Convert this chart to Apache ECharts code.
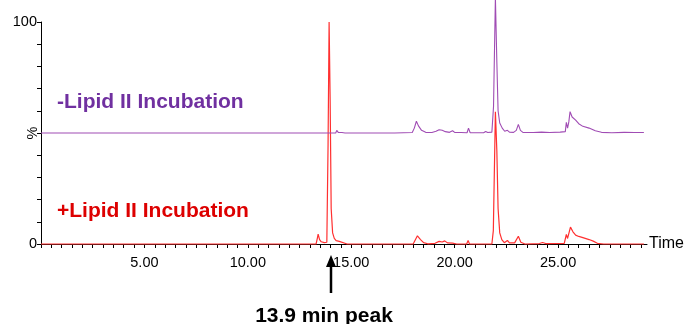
<!DOCTYPE html>
<html>
<head>
<meta charset="utf-8">
<script src="https://cdn.jsdelivr.net/npm/echarts@6/dist/echarts.min.js"></script>
<style>
  html, body { margin: 0; padding: 0; background: #fff; }
  #chart { width: 684px; height: 324px; }
</style>
</head>
<body>
<div id="chart"></div>
<script>
// Chromatogram traces: retention time (min) and relative intensity (%)
const minusLipidTime = [0, 13.8, 14.25, 14.3, 14.38, 14.55, 14.62, 14.7, 16.22, 16.3, 16.38, 16.95, 17.02, 17.1,
  17.95, 18.05, 18.15, 18.25, 18.4, 18.6, 18.9, 19.1, 19.25, 19.4, 19.55, 19.75, 19.9, 20.0, 20.3, 20.6, 20.67, 20.75,
  21.4, 21.5, 21.6, 21.8, 21.88, 21.97, 22.04, 22.1, 22.18, 22.3, 22.42, 22.55, 22.65, 22.85, 22.98, 23.08, 23.18, 23.3,
  23.8, 24.2, 24.6, 25.1, 25.35, 25.4, 25.46, 25.52, 25.58, 25.68, 25.85, 26.0, 26.2, 26.5, 26.8, 27.1, 27.6, 28.2, 28.7, 29.15];
const minusLipidIntensity = [0, 0, 0, 1.2, 0.2, 0.2, 0.6, 0, 0, 0.5, 0, 0, 0.5, 0,
  0.2, 2.2, 5.3, 3.2, 1.2, 0.3, 0.2, 0.8, 1.5, 1.2, 0.6, 0.3, 1.0, 0.3, 0.2, 0.1, 2.2, 0.1,
  0.1, 0.7, 0.2, 0.4, 12, 61, 32, 10, 4.5, 2.2, 0.8, 1.2, 0.4, 0.3, 1.2, 3.9, 1.2, 0.3,
  0.2, 0.4, 0.2, 0.4, 0.6, 4.8, 2.2, 5, 9.6, 7.2, 5.8, 4.2, 3.0, 2.2, 1.0, 0.3, 0.1, 0.3, 0.2, 0.2];

const plusLipidTime = [0, 13.3, 13.36, 13.4, 13.47, 13.55, 13.7, 13.82, 13.88, 13.93, 13.98, 14.03, 14.1, 14.18, 14.27,
  14.35, 14.42, 14.5, 14.8, 16.3, 16.35, 16.45, 18.0, 18.2, 18.35, 18.5, 18.7, 19.05, 19.25, 19.4, 19.52, 19.65, 19.9,
  20.1, 20.58, 20.65, 20.72, 21.8, 21.87, 21.97, 22.04, 22.1, 22.18, 22.28, 22.4, 22.55, 22.65, 22.9, 23.08, 23.2, 23.4,
  24.1, 24.25, 24.4, 25.3, 25.4, 25.46, 25.6, 25.72, 25.85, 26.0, 26.2, 26.5, 26.7, 26.9, 27.2, 29.15];
const plusLipidIntensity = [0, 0, 2.5, 4.4, 2.0, 1.0, 0.6, 0.8, 45, 100, 65, 16, 5, 2.5, 1.5,
  0.6, 1.2, 0.3, 0, 0, 0.3, 0, 0.1, 3.7, 2.0, 0.6, 0.1, 0.3, 1.2, 0.9, 1.4, 0.5, 0.4,
  0, 0, 1.6, 0, 0, 6, 59.6, 42, 16, 5, 2.0, 0.6, 1.6, 0.5, 0.5, 3.5, 0.8, 0,
  0.2, 0.7, 0.2, 0.3, 4.3, 2.5, 7.6, 5.5, 4.0, 3.4, 2.9, 2.0, 1.3, 0.3, 0, 0];

// The -Lipid II trace is stacked above the +Lipid II trace
const minusLipidOffset = 50;

const xLabelValues = [5, 10, 15, 20, 25];
const yLabelValues = [0, 100];
const timeMax = 29.3;

// minor ticks every half minute along the time axis
const xTickValues = [];
for (let t = 0; t <= 29; t += 0.5) xTickValues.push(t);

const minusLipidData = minusLipidTime.map((t, i) => [t, minusLipidIntensity[i] + minusLipidOffset]);
const plusLipidData = plusLipidTime.map((t, i) => [t, plusLipidIntensity[i]]);

const FONT = '"Liberation Sans", Arial, sans-serif';

const chart = echarts.init(document.getElementById('chart'), null, { renderer: 'canvas' });
chart.setOption({
  animation: false,
  backgroundColor: '#ffffff',
  grid: { left: 41, right: 37, top: 22, bottom: 80, containLabel: false, outerBoundsMode: 'none' },
  xAxis: {
    type: 'value',
    min: 0,
    max: timeMax,
    name: 'Time',
    nameLocation: 'end',
    nameGap: 2,
    nameTextStyle: { color: '#000', fontSize: 16, fontFamily: FONT, verticalAlign: 'middle' },
    splitLine: { show: false },
    axisLine: { show: true, lineStyle: { color: '#000', width: 1 } },
    axisTick: { show: true, length: 4, lineStyle: { color: '#000' }, customValues: xTickValues },
    axisLabel: {
      customValues: xLabelValues,
      margin: 11,
      color: '#000',
      fontSize: 14.5,
      fontFamily: FONT,
      formatter: v => v.toFixed(2)
    }
  },
  yAxis: {
    type: 'value',
    min: 0,
    max: 100,
    interval: 10,
    name: '%',
    nameLocation: 'middle',
    nameRotate: 90,
    nameGap: 1,
    nameMoveOverlap: false,
    nameTextStyle: { color: '#000', fontSize: 14.5, fontFamily: FONT },
    splitLine: { show: false },
    axisLine: { show: true, lineStyle: { color: '#000', width: 1 } },
    axisTick: { show: true, length: 4, lineStyle: { color: '#000' } },
    axisLabel: {
      customValues: yLabelValues,
      margin: 4,
      color: '#000',
      fontSize: 14.5,
      fontFamily: FONT
    }
  },
  series: [
    {
      name: '+Lipid II Incubation',
      type: 'line',
      data: plusLipidData,
      showSymbol: false,
      symbol: 'none',
      clip: false,
      z: 3,
      lineStyle: { color: '#ff3030', width: 1.2 }
    },
    {
      name: '-Lipid II Incubation',
      type: 'line',
      data: minusLipidData,
      showSymbol: false,
      symbol: 'none',
      clip: false,
      z: 4,
      lineStyle: { color: '#a04cb4', width: 1.1 }
    }
  ],
  graphic: [
    {
      type: 'text', x: 57, y: 102,
      style: { text: '-Lipid II Incubation', fill: '#7030a0', font: 'bold 21px ' + FONT, align: 'left', verticalAlign: 'middle' }
    },
    {
      type: 'text', x: 57, y: 211,
      style: { text: '+Lipid II Incubation', fill: '#dd0000', font: 'bold 21px ' + FONT, align: 'left', verticalAlign: 'middle' }
    },
    {
      type: 'line',
      shape: { x1: 331, y1: 293, x2: 331, y2: 264 },
      style: { stroke: '#000', lineWidth: 2.5 }
    },
    {
      type: 'polygon',
      shape: { points: [[326, 267], [331, 255], [336, 267]] },
      style: { fill: '#000' }
    },
    {
      type: 'text', x: 324, y: 316,
      style: { text: '13.9 min peak', fill: '#000', font: 'bold 21px ' + FONT, align: 'center', verticalAlign: 'middle' }
    }
  ]
});
</script>
</body>
</html>
